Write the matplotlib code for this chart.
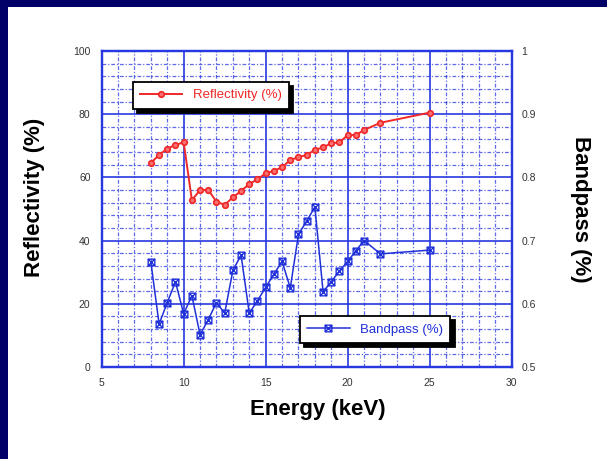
import numpy as np
import matplotlib
matplotlib.use("Agg")
import matplotlib.pyplot as plt
from matplotlib.patches import Rectangle
from matplotlib.path import Path
from matplotlib.ticker import MultipleLocator

# energy grid (keV)
energy = [8.0, 8.5, 9.0, 9.5, 10.0, 10.5, 11.0, 11.5, 12.0, 12.5, 13.0, 13.5,
          14.0, 14.5, 15.0, 15.5, 16.0, 16.5, 17.0, 17.5, 18.0, 18.5, 19.0,
          19.5, 20.0, 20.5, 21.0, 22.0, 25.0]
reflectivity = [64.6, 67.1, 69.1, 70.3, 71.1, 52.8, 56.0, 56.0, 52.3, 51.3,
                53.7, 55.7, 57.9, 59.4, 61.3, 62.1, 63.2, 65.5, 66.4, 67.1,
                68.7, 69.5, 70.8, 71.1, 73.4, 73.4, 75.0, 77.3, 80.5]
bandpass = [0.666, 0.568, 0.602, 0.635, 0.584, 0.613, 0.551, 0.575, 0.602,
            0.585, 0.653, 0.677, 0.585, 0.605, 0.626, 0.647, 0.667, 0.625,
            0.710, 0.731, 0.753, 0.619, 0.635, 0.652, 0.667, 0.684, 0.700,
            0.679, 0.685]

left_ticks = [0, 20, 40, 60, 80, 100]
right_ticks = [0.5, 0.6, 0.7, 0.8, 0.9, 1.0]
right_labels = ["0.5", "0.6", "0.7", "0.8", "0.9", "1"]
x_ticks = [5, 10, 15, 20, 25, 30]

navy = "#000068"
grid_blue = "#2838e0"
red = "#f02828"
blue = "#2030d8"

plt.rcParams['font.family'] = ['Liberation Sans', 'DejaVu Sans']

# square with a cross inside, like the original marker
box_x = Path([(-1, -1), (1, -1), (1, 1), (-1, 1), (-1, -1),
              (-1, -1), (1, 1), (-1, 1), (1, -1)],
             [Path.MOVETO, Path.LINETO, Path.LINETO, Path.LINETO, Path.CLOSEPOLY,
              Path.MOVETO, Path.LINETO, Path.MOVETO, Path.LINETO])

fig = plt.figure(figsize=(6.07, 4.59), dpi=100, facecolor=navy)
fig.patches.append(Rectangle((8 / 607, 0), 1, 1 - 7 / 459, transform=fig.transFigure,
                             facecolor="white", edgecolor="none", zorder=-1))

ax = fig.add_axes([0.1675, 0.2004, 0.6755, 0.6885])
ax2 = ax.twinx()

ax.plot(energy, reflectivity, color=red, lw=1.4, marker="o", ms=4.0,
        mfc="#f87070", mec=red, mew=1.2, label="Reflectivity (%)")
ax2.plot(energy, bandpass, color=blue, lw=1.1, marker=box_x, ms=4.8,
         mfc="none", mec=blue, mew=1.0, label="Bandpass (%)")

ax.set_xlim(5, 30)
ax.set_ylim(0, 100)
ax2.set_ylim(0.5, 1.0)
ax.set_xticks(x_ticks)
ax.set_yticks(left_ticks)
ax2.set_yticks(right_ticks)
ax2.set_yticklabels(right_labels)
ax.xaxis.set_minor_locator(MultipleLocator(1))
ax.yaxis.set_minor_locator(MultipleLocator(4))

ax.grid(which="major", color=grid_blue, lw=1.2, ls="-")
ax.grid(which="minor", color=grid_blue, lw=0.9, ls=(0, (3, 1.5, 1, 1.5)), alpha=0.75)
ax.set_axisbelow(True)

for a in (ax, ax2):
    for s in a.spines.values():
        s.set_color(grid_blue)
        s.set_linewidth(1.6)
ax.tick_params(axis="both", which="both", length=0, labelsize=7.5, labelcolor="#333333")
ax.tick_params(axis="x", pad=8)
ax.tick_params(axis="y", pad=8)
ax2.tick_params(axis="y", length=0, labelsize=7.5, labelcolor="#333333", pad=7)

ax.set_xlabel("Energy (keV)", fontsize=16, fontweight="bold", va="center")
ax.xaxis.set_label_coords(0.528, -0.133)
ax.set_ylabel("Reflectivity (%)", fontsize=16, fontweight="bold", va="center")
ax.yaxis.set_label_coords(-0.163, 0.538)
ax2.set_ylabel("Bandpass (%)", fontsize=16, fontweight="bold", rotation=270, va="center")
ax2.yaxis.set_label_coords(1.167, 0.5)

shadow = {"ox": 3, "oy": -3, "color": "black", "alpha": 1}
leg1 = ax.legend(loc="upper left", bbox_to_anchor=(0.076, 0.902), borderaxespad=0,
                 fancybox=False, shadow=shadow, framealpha=1, edgecolor="black",
                 fontsize=9.5, handlelength=3.2, labelcolor=red, borderpad=0.55)
leg1.get_frame().set_linewidth(1.3)
leg2 = ax2.legend(loc="lower left", bbox_to_anchor=(0.484, 0.076), borderaxespad=0,
                  fancybox=False, shadow=shadow, framealpha=1, edgecolor="black",
                  fontsize=9.5, handlelength=3.2, labelcolor=blue, borderpad=0.55)
leg2.get_frame().set_linewidth(1.3)

fig.savefig("out.png", dpi=100, facecolor=fig.get_facecolor())
plt.close()
